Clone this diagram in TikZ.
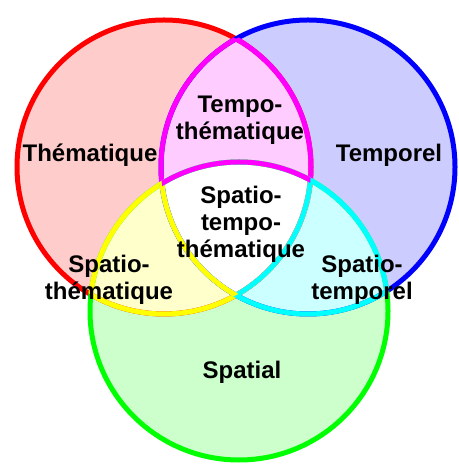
\documentclass[tikz,border=0pt]{standalone}
\usepackage{fontspec}
\setmainfont{Liberation Sans}
\definecolor{redring}{RGB}{255,0,0}
\definecolor{bluering}{RGB}{0,0,255}
\definecolor{greenring}{RGB}{0,255,0}
\definecolor{magentaring}{RGB}{255,0,255}
\definecolor{yellowring}{RGB}{255,255,0}
\definecolor{cyanring}{RGB}{0,255,255}
\definecolor{redzone}{RGB}{255,204,204}
\definecolor{bluezone}{RGB}{204,204,255}
\definecolor{greenzone}{RGB}{204,255,204}
\definecolor{magentazone}{RGB}{255,204,255}
\definecolor{yellowzone}{RGB}{255,255,204}
\definecolor{cyanzone}{RGB}{204,255,255}
\usetikzlibrary{positioning}

\tikzset{
    ring/.style={line width=5pt},
    zonetext/.style={align=center, inner sep=0pt, font=\bfseries\fontsize{24}{27}\selectfont}
}
\newcommand{\rR}{147}
\newcommand{\rB}{147}
\newcommand{\rG}{149}

\begin{document}
\begin{tikzpicture}[x=1pt, y=1pt]
    \useasboundingbox (0,0) rectangle (458,465);
    \fill[white] (0,0) rectangle (458,465);
    \coordinate (cR) at (164,298);
    \coordinate (cB) at (308,298);
    \coordinate (cG) at (239,154);

    % zones
    \fill[redzone] (cR) circle[radius=\rR];
    \fill[bluezone] (cB) circle[radius=\rB];
    \fill[greenzone] (cG) circle[radius=\rG];
    \begin{scope}
        \clip (cR) circle[radius=\rR];
        \fill[magentazone] (cB) circle[radius=\rB];
        \fill[yellowzone] (cG) circle[radius=\rG];
    \end{scope}
    \begin{scope}
        \clip (cB) circle[radius=\rB];
        \fill[cyanzone] (cG) circle[radius=\rG];
        \clip (cR) circle[radius=\rR];
        \fill[white] (cG) circle[radius=\rG];
    \end{scope}

    % outer rings
    \draw[ring, redring] (cR) circle[radius=\rR];
    \draw[ring, bluering] (cB) circle[radius=\rB];
    \draw[ring, greenring] (cG) circle[radius=\rG];

    % lens borders
    \begin{scope}
        \clip (cB) circle[radius=\rB];
        \draw[ring, magentaring] (cR) circle[radius=\rR];
    \end{scope}
    \begin{scope}
        \clip (cR) circle[radius=\rR];
        \draw[ring, magentaring] (cB) circle[radius=\rB];
    \end{scope}
    \begin{scope}
        \clip (cG) circle[radius=\rG];
        \draw[ring, yellowring] (cR) circle[radius=\rR];
    \end{scope}
    \begin{scope}
        \clip (cR) circle[radius=\rR];
        \draw[ring, yellowring] (cG) circle[radius=\rG];
    \end{scope}
    \begin{scope}
        \clip (cG) circle[radius=\rG];
        \draw[ring, cyanring] (cB) circle[radius=\rB];
    \end{scope}
    \begin{scope}
        \clip (cB) circle[radius=\rB];
        \draw[ring, cyanring] (cG) circle[radius=\rG];
    \end{scope}

    % centre borders
    \begin{scope}
        \clip (cB) circle[radius=\rB];
        \clip (cG) circle[radius=\rG];
        \draw[ring, cyanring] (cR) circle[radius=\rR];
    \end{scope}
    \begin{scope}
        \clip (cR) circle[radius=\rR];
        \clip (cG) circle[radius=\rG];
        \draw[ring, yellowring] (cB) circle[radius=\rB];
    \end{scope}
    \begin{scope}
        \clip (cR) circle[radius=\rR];
        \clip (cB) circle[radius=\rB];
        \draw[ring, magentaring] (cG) circle[radius=\rG];
    \end{scope}

    % texts
    \node[zonetext] (thema) at (90,310) {Thématique};
    \node[zonetext] (tempo) at (389,310) {Temporel};
    \node[zonetext] (spatial) at (242,93) {Spatial};
    \node[zonetext] (tempothema) at (240,345) {Tempo-\\thématique};
    \node[zonetext] (spatiothema) at (109,185) {Spatio-\\thématique};
    \node[zonetext] (spatiotempo) at (362,185) {Spatio-\\temporel};
    \node[zonetext] (all) at (241,241) {Spatio-\\tempo-\\thématique};
\end{tikzpicture}
\end{document}
